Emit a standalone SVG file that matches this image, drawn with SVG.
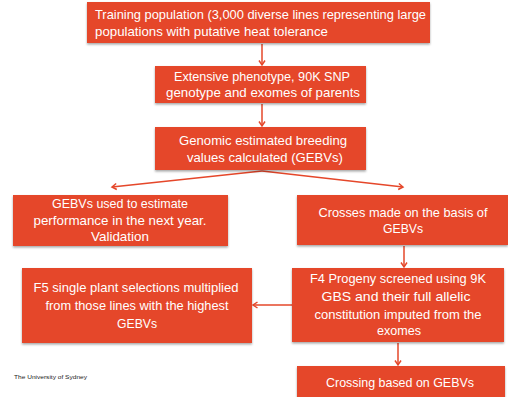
<svg xmlns="http://www.w3.org/2000/svg" width="508" height="397" viewBox="0 0 508 397">
<style>
.box{fill:#E5472A;filter:url(#sh);}
.t{font-family:"Liberation Sans",Arial,sans-serif;font-size:13.5px;fill:#ffffff;}
.c{text-anchor:middle;}
.con{stroke:#E5472A;stroke-width:1.5;fill:none;marker-end:url(#ah);}
.foot{font-family:"Liberation Sans",Arial,sans-serif;font-size:5.5px;fill:#222;}
</style>
<defs>
<filter id="sh" x="-5%" y="-10%" width="110%" height="130%">
<feDropShadow dx="0" dy="1.5" stdDeviation="1.2" flood-color="#000" flood-opacity="0.35"/>
</filter>
<marker id="ah" markerWidth="8" markerHeight="8" refX="5.5" refY="4" orient="auto" markerUnits="userSpaceOnUse">
<path d="M1,1 L5.5,4 L1,7" fill="none" stroke="#E5472A" stroke-width="1.5"/>
</marker>
</defs>
<rect width="508" height="397" fill="#ffffff"/>
<g id="connectors">
<line class="con" x1="262" y1="44" x2="262" y2="65"/>
<line class="con" x1="262" y1="104" x2="262" y2="126"/>
<line class="con" x1="262" y1="171" x2="112" y2="187"/>
<line class="con" x1="262" y1="171" x2="403" y2="187"/>
<line class="con" x1="404" y1="246" x2="404" y2="267"/>
<line class="con" x1="292" y1="305" x2="253" y2="305"/>
<line class="con" x1="398" y1="343" x2="398" y2="365"/>
</g>
<g id="n1">
<rect class="box" x="87" y="2" width="343" height="41"/>
<text class="t" x="95" y="19" textLength="331" lengthAdjust="spacingAndGlyphs">Training population (3,000 diverse lines representing large</text>
<text class="t" x="95" y="36" textLength="233" lengthAdjust="spacingAndGlyphs">populations with putative heat tolerance</text>
</g>
<g id="n2">
<rect class="box" x="155" y="66" width="211" height="37"/>
<text class="t c" x="262" y="81" textLength="176" lengthAdjust="spacingAndGlyphs">Extensive phenotype, 90K SNP</text>
<text class="t c" x="263" y="97" textLength="194" lengthAdjust="spacingAndGlyphs">genotype and exomes of parents</text>
</g>
<g id="n3">
<rect class="box" x="155" y="127" width="211" height="43"/>
<text class="t c" x="263" y="145" textLength="168" lengthAdjust="spacingAndGlyphs">Genomic estimated breeding</text>
<text class="t c" x="265" y="162" textLength="156" lengthAdjust="spacingAndGlyphs">values calculated (GEBVs)</text>
</g>
<g id="n4">
<rect class="box" x="13" y="195" width="215" height="51"/>
<text class="t c" x="120" y="208" textLength="136" lengthAdjust="spacingAndGlyphs">GEBVs used to estimate</text>
<text class="t c" x="120" y="225" textLength="173" lengthAdjust="spacingAndGlyphs">performance in the next year.</text>
<text class="t c" x="120" y="241" textLength="58" lengthAdjust="spacingAndGlyphs">Validation</text>
</g>
<g id="n5">
<rect class="box" x="297" y="195" width="211" height="50"/>
<text class="t c" x="403" y="217" textLength="169" lengthAdjust="spacingAndGlyphs">Crosses made on the basis of</text>
<text class="t c" x="403" y="233" textLength="40" lengthAdjust="spacingAndGlyphs">GEBVs</text>
</g>
<g id="n6">
<rect class="box" x="22" y="268" width="230" height="75"/>
<text class="t c" x="136" y="292" textLength="205" lengthAdjust="spacingAndGlyphs">F5 single plant selections multiplied</text>
<text class="t c" x="137" y="310" textLength="183" lengthAdjust="spacingAndGlyphs">from those lines with the highest</text>
<text class="t c" x="137" y="328" textLength="40" lengthAdjust="spacingAndGlyphs">GEBVs</text>
</g>
<g id="n7">
<rect class="box" x="292" y="268" width="212" height="74"/>
<text class="t c" x="398" y="283" textLength="176" lengthAdjust="spacingAndGlyphs">F4 Progeny screened using 9K</text>
<text class="t c" x="396" y="301" textLength="149" lengthAdjust="spacingAndGlyphs">GBS and their full allelic</text>
<text class="t c" x="398" y="319" textLength="167" lengthAdjust="spacingAndGlyphs">constitution imputed from the</text>
<text class="t c" x="399" y="335" textLength="44" lengthAdjust="spacingAndGlyphs">exomes</text>
</g>
<g id="n8">
<rect class="box" x="297" y="366" width="208" height="40"/>
<text class="t c" x="400" y="387" textLength="148" lengthAdjust="spacingAndGlyphs">Crossing based on GEBVs</text>
</g>
<text class="foot" x="14" y="379" textLength="73" lengthAdjust="spacingAndGlyphs">The University of Sydney</text>
</svg>
